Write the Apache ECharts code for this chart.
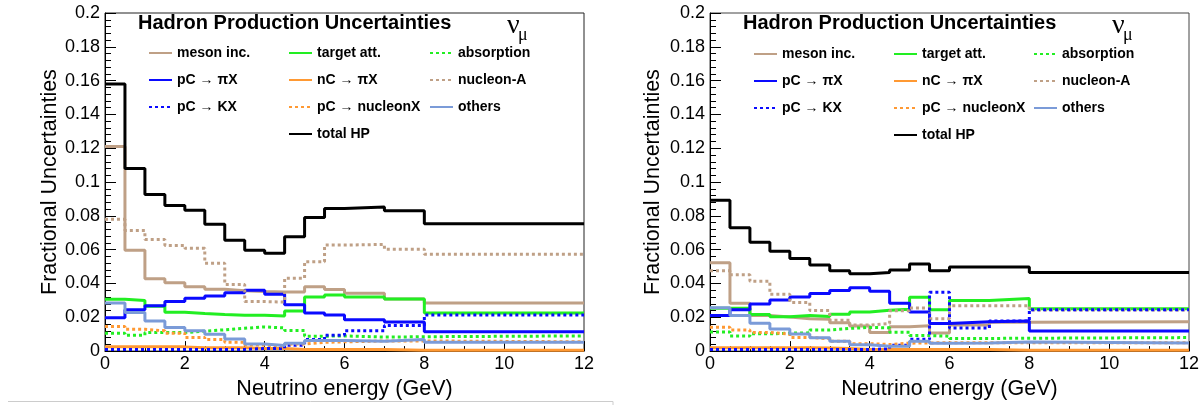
<!DOCTYPE html>
<html><head><meta charset="utf-8">
<script src="https://cdn.jsdelivr.net/npm/echarts@6/dist/echarts.min.js"></script>
<style>html,body{margin:0;padding:0;background:#fff;}#c{width:1204px;height:405px;}</style>
</head><body><div id="c"></div>
<script>
// Bin edges (GeV)
var edges = [0,0.5,1,1.5,2,2.5,3,3.5,4,4.5,5,5.5,6,7,8,12];
var xTicks = ['0','2','4','6','8','10','12'];
var seriesNames = ['meson inc.','target att.','absorption','pC \u2192 \u03c0X','nC \u2192 \u03c0X','nucleon-A','pC \u2192 KX','pC \u2192 nucleonX','others','total HP'];

// Left panel values (one per bin)
var L_meson  = [0.121,0.0596,0.0428,0.0405,0.038,0.0366,0.0357,0.0352,0.035,0.035,0.038,0.0365,0.0342,0.0308,0.0284];
var L_target = [0.0307,0.0300,0.0266,0.023,0.0222,0.0216,0.0212,0.0212,0.0207,0.0237,0.032,0.0332,0.032,0.0308,0.0226];
var L_absorb = [0.0106,0.0094,0.011,0.011,0.0118,0.0126,0.0135,0.0143,0.0137,0.0122,0.0088,0.009,0.0083,0.0085,0.009];
var L_pcpi   = [0.0197,0.0245,0.0268,0.0293,0.0313,0.0326,0.0345,0.036,0.0337,0.0274,0.0226,0.0214,0.0185,0.0172,0.0114];
var L_ncpi   = [0.0025,0.0025,0.0025,0.0025,0.002,0.002,0.002,0.0015,0.0015,0.001,0.001,0.001,0.001,0.0005,0.0005];
var L_nucA   = [0.078,0.0714,0.066,0.0625,0.0608,0.052,0.0394,0.0293,0.029,0.0431,0.0529,0.0627,0.0631,0.0602,0.0573];
var L_pcK    = [0.001,0.001,0.001,0.001,0.001,0.001,0.001,0.0015,0.0015,0.0035,0.0068,0.0094,0.012,0.0152,0.0214];
var L_pcN    = [0.0146,0.0129,0.012,0.0106,0.0081,0.0068,0.0052,0.0036,0.0029,0.0042,0.0052,0.0055,0.006,0.006,0.0055];
var L_others = [0.0284,0.0228,0.0178,0.0139,0.012,0.01,0.0071,0.0042,0.0033,0.0046,0.0062,0.0062,0.0058,0.0068,0.0052];
var L_total  = [0.158,0.108,0.0926,0.0862,0.0833,0.0751,0.0656,0.0596,0.0579,0.0677,0.079,0.0843,0.0853,0.083,0.0754];

// Right panel values
var R_meson  = [0.0523,0.0283,0.0211,0.0202,0.0192,0.0188,0.0167,0.0148,0.011,0.0144,0.015,0.0107,0.0155,0.0171,0.0173];
var R_target = [0.0254,0.0254,0.0217,0.0203,0.0211,0.0204,0.0218,0.0231,0.0242,0.0248,0.0318,0.0245,0.0300,0.0311,0.025];
var R_absorb = [0.0113,0.009,0.0102,0.0106,0.0108,0.0125,0.0134,0.014,0.0138,0.0111,0.0092,0.0088,0.0075,0.0076,0.008];
var R_pcpi   = [0.0211,0.0245,0.0278,0.0302,0.032,0.034,0.0359,0.0375,0.0354,0.0283,0.0231,0.0163,0.0173,0.0178,0.0119];
var R_ncpi   = [0.002,0.002,0.002,0.002,0.002,0.0018,0.0015,0.001,0.001,0.001,0.001,0.001,0.001,0.0005,0.0005];
var R_nucA   = [0.0476,0.0451,0.0413,0.0336,0.0288,0.024,0.0183,0.0154,0.0163,0.0238,0.0255,0.0192,0.0269,0.0269,0.0243];
var R_pcK    = [0.001,0.001,0.001,0.001,0.001,0.001,0.001,0.001,0.0013,0.0035,0.007,0.0348,0.0136,0.0178,0.0245];
var R_pcN    = [0.0141,0.0125,0.011,0.01,0.0081,0.0073,0.0058,0.0044,0.0039,0.0047,0.0048,0.005,0.005,0.005,0.005];
var R_others = [0.0257,0.0211,0.0165,0.013,0.0101,0.0079,0.0058,0.0038,0.0029,0.0029,0.0058,0.0046,0.0048,0.0054,0.0048];
var R_total  = [0.0893,0.073,0.0644,0.059,0.0548,0.0509,0.0476,0.0457,0.0465,0.048,0.0515,0.0476,0.0497,0.0497,0.0465];

var TAN='#bfa086', GREEN='#22ee22', BLUE='#0a0aff', ORANGE='#ff9933', LBLUE='#7b9bd8';
var styles = [
  {c:TAN, t:'solid'}, {c:GREEN, t:'solid'}, {c:GREEN, t:[3,3]},
  {c:BLUE, t:'solid'}, {c:ORANGE, t:'solid'}, {c:TAN, t:[3,3]},
  {c:BLUE, t:[3,3]}, {c:ORANGE, t:[3,3]}, {c:LBLUE, t:'solid'}, {c:'#000', t:'solid'}
];
var leftVals  = [L_meson,L_target,L_absorb,L_pcpi,L_ncpi,L_nucA,L_pcK,L_pcN,L_others,L_total];
var rightVals = [R_meson,R_target,R_absorb,R_pcpi,R_ncpi,R_nucA,R_pcK,R_pcN,R_others,R_total];

function histData(vals){
  return edges.map(function(e,i){ return [e, vals[Math.min(i, vals.length-1)]]; });
}
var series = [];
[leftVals,rightVals].forEach(function(set, g){
  set.forEach(function(vals, k){
    series.push({
      type:'line', name: seriesNames[k], xAxisIndex:g, yAxisIndex:g,
      step:'end', symbol:'none', data: histData(vals), z: 2+k,
      lineStyle:{color:styles[k].c, width:3, type:styles[k].t},
      itemStyle:{color:styles[k].c}, animation:false
    });
  });
});

var FONT = 'Liberation Sans, Arial, Helvetica, sans-serif';
function xAx(g){
  return {type:'value', gridIndex:g, min:0, max:12, interval:2,
    name:'Neutrino energy (GeV)', nameLocation:'middle', nameGap:g?20:18,
    nameTextStyle:{fontSize:21.5, color:'#000', fontFamily:FONT, verticalAlign:'top'},
    axisLine:{lineStyle:{color:'#000', width:1}},
    axisTick:{inside:true, length:10, lineStyle:{color:'#000'}},
    minorTick:{show:true, splitNumber:4, length:5, lineStyle:{color:'#000'}},
    axisLabel:{fontSize:18, color:'#000', fontFamily:FONT, margin:4,
      formatter:function(v){ return xTicks[Math.round(v/2)]; }},
    splitLine:{show:false}};
}
function yAx(g){
  return {type:'value', gridIndex:g, min:0, max:0.2, interval:0.02,
    name:'Fractional Uncertainties', nameLocation:'middle', nameGap:g?46:42, nameRotate:90,
    nameTextStyle:{fontSize:21.5, color:'#000', fontFamily:FONT},
    axisLine:{show:true, lineStyle:{color:'#000', width:1}},
    axisTick:{inside:true, length:11, lineStyle:{color:'#000'}},
    minorTick:{show:true, splitNumber:5, length:6, lineStyle:{color:'#000'}},
    axisLabel:{fontSize:18, color:'#000', fontFamily:FONT, margin:5,
      formatter:function(v){ return String(+v.toFixed(2)); }},
    splitLine:{show:false}};
}
function leg(x, y, names){
  return {left:x, top:y, orient:'vertical', itemWidth:23, itemHeight:14, itemGap:13, padding:0,
    selectedMode:false, data:names, itemStyle:{opacity:0, borderWidth:0},
    textStyle:{fontSize:14, fontWeight:'bold', color:'#000', fontFamily:FONT, lineHeight:14}};
}
var col1 = [seriesNames[0], seriesNames[3], seriesNames[6]];
var col2 = [seriesNames[1], seriesNames[4], seriesNames[7], seriesNames[9]];
var col3 = [seriesNames[2], seriesNames[5], seriesNames[8]];

var option = {
  backgroundColor:'#fff', animation:false,
  grid:[
    {left:105, top:13, width:479, height:346, show:true, borderColor:'#222', borderWidth:1, backgroundColor:'transparent'},
    {left:710, top:13, width:479, height:347, show:true, borderColor:'#444', borderWidth:1, backgroundColor:'transparent'}
  ],
  xAxis:[xAx(0), xAx(1)],
  yAxis:[yAx(0), yAx(1)],
  legend:[
    leg(148, 46, col1), leg(288, 46, col2), leg(429, 46, col3),
    leg(753, 47, col1), leg(893, 47, col2), leg(1033, 47, col3)
  ],
  graphic:[
    {type:'text', left:138, top:13, style:{text:'Hadron Production Uncertainties', font:'bold 20px '+FONT, fill:'#000'}},
    {type:'text', left:743, top:13, style:{text:'Hadron Production Uncertainties', font:'bold 20px '+FONT, fill:'#000'}},
    {type:'text', left:507, top:12, style:{text:'\u03bd', font:'28px Liberation Serif, serif', fill:'#000'}},
    {type:'text', left:518, top:26, style:{text:'\u03bc', font:'18px Liberation Serif, serif', fill:'#000'}},
    {type:'text', left:1112, top:12, style:{text:'\u03bd', font:'28px Liberation Serif, serif', fill:'#000'}},
    {type:'text', left:1123, top:26, style:{text:'\u03bc', font:'18px Liberation Serif, serif', fill:'#000'}},
    {type:'line', shape:{x1:8, y1:401.5, x2:613, y2:401.5}, style:{stroke:'#ccc', lineWidth:1}},
    {type:'line', shape:{x1:613, y1:401.5, x2:613, y2:405}, style:{stroke:'#ccc', lineWidth:1}}
  ],
  series: series
};
var chart = echarts.init(document.getElementById('c'), null, {renderer:'canvas'});
chart.setOption(option);
</script>
</body></html>
